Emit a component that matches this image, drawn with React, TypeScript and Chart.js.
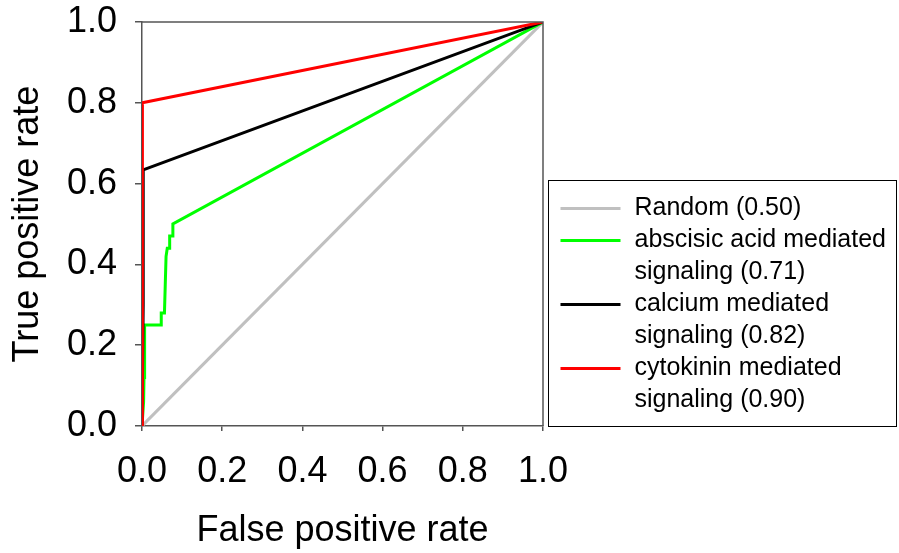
import React, { useEffect, useRef } from "react";
import { Chart, registerables } from "chart.js";
Chart.register(...registerables);

const tickValues = [0, 0.2, 0.4, 0.6, 0.8, 1.0];

const seriesNames = ["Random (0.50)", "abscisic acid mediated signaling (0.71)", "calcium mediated signaling (0.82)", "cytokinin mediated signaling (0.90)"];
const legendLines = [
  ["Random (0.50)"],
  ["abscisic acid mediated", "signaling (0.71)"],
  ["calcium mediated", "signaling (0.82)"],
  ["cytokinin mediated", "signaling (0.90)"],
];
const seriesColors = ["#c0c0c0", "#00ff00", "#000000", "#ff0000"];

const randomFpr = [0, 1];
const randomTpr = [0, 1];

const abaFpr = [0, 0.004, 0.005, 0.006, 0.007, 0.048, 0.048, 0.056, 0.058, 0.06, 0.063, 0.069, 0.069, 0.077, 0.077, 1];
const abaTpr = [0, 0.06, 0.12, 0.19, 0.25, 0.25, 0.28, 0.28, 0.35, 0.42, 0.44, 0.44, 0.47, 0.47, 0.5, 1];

const calciumFpr = [0, 0.003, 0.003, 1];
const calciumTpr = [0, 0.3, 0.634, 1];

const cytokininFpr = [0, 0.001, 1];
const cytokininTpr = [0, 0.8, 1];

const FONT = "'Liberation Sans', Arial, sans-serif";

function pts(xs: number[], ys: number[]) {
  return xs.map((x, i) => ({ x, y: ys[i] }));
}

const framePlugin = {
  id: "frameAndLegend",
  afterDraw(chart: any) {
    const { ctx, chartArea: a } = chart;
    ctx.save();
    ctx.strokeStyle = "#555";
    ctx.lineWidth = 1.5;
    ctx.beginPath();
    ctx.moveTo(a.left, a.top);
    ctx.lineTo(a.right, a.top);
    ctx.lineTo(a.right, a.bottom);
    ctx.stroke();

    // legend
    const bx = a.right + 5.5;
    const by = 180.5;
    const bw = 348;
    const bh = 246;
    ctx.strokeStyle = "#000";
    ctx.lineWidth = 1;
    ctx.strokeRect(bx, by, bw, bh);
    ctx.font = `25px ${FONT}`;
    ctx.fillStyle = "#000";
    ctx.textBaseline = "middle";
    ctx.textAlign = "left";
    let row = 0;
    const rowH = 32;
    const y0 = by + 28;
    legendLines.forEach((lines, i) => {
      const y = y0 + row * rowH;
      ctx.strokeStyle = seriesColors[i];
      ctx.lineWidth = 3;
      ctx.beginPath();
      ctx.moveTo(bx + 12, y);
      ctx.lineTo(bx + 72, y);
      ctx.stroke();
      lines.forEach((t, j) => {
        ctx.fillText(t, bx + 86, y0 + (row + j) * rowH);
      });
      row += lines.length;
    });
    ctx.restore();
  },
};

export default function App() {
  const ref = useRef<HTMLCanvasElement>(null);
  useEffect(() => {
    if (!ref.current) return;
    const xsList = [randomFpr, abaFpr, calciumFpr, cytokininFpr];
    const ysList = [randomTpr, abaTpr, calciumTpr, cytokininTpr];
    const chart = new Chart(ref.current, {
      type: "scatter",
      data: {
        datasets: seriesNames.map((name, i) => ({
          label: name,
          data: pts(xsList[i], ysList[i]),
          showLine: true,
          borderColor: seriesColors[i],
          backgroundColor: seriesColors[i],
          borderWidth: 3,
          pointRadius: 0,
          order: 4 - i,
        })),
      },
      options: {
        responsive: false,
        animation: false,
        layout: { padding: { top: 22, right: 356, left: 0, bottom: 0 } },
        plugins: { legend: { display: false }, tooltip: { enabled: false } },
        scales: {
          x: {
            type: "linear",
            min: 0,
            max: 1,
            afterBuildTicks: (s: any) => {
              s.ticks = tickValues.map((v) => ({ value: v }));
            },
            afterFit: (s: any) => {
              s.height = 127;
              s.paddingLeft = 0;
              s.paddingRight = 0;
            },
            ticks: {
              callback: (v: any) => Number(v).toFixed(1),
              font: { family: FONT, size: 36 },
              color: "#000",
              padding: 19,
              maxRotation: 0,
            },
            grid: { drawOnChartArea: false, drawTicks: true, tickLength: 5, tickColor: "#555", lineWidth: 1.5 },
            border: { display: true, color: "#555", width: 1.5 },
            title: {
              display: true,
              text: "False positive rate",
              font: { family: FONT, size: 36 },
              color: "#000",
              padding: { top: 0, bottom: 0 },
            },
          },
          y: {
            type: "linear",
            min: 0,
            max: 1,
            afterBuildTicks: (s: any) => {
              s.ticks = tickValues.map((v) => ({ value: v }));
            },
            afterFit: (s: any) => {
              s.width = 142;
              s.paddingTop = 0;
              s.paddingBottom = 0;
            },
            ticks: {
              callback: (v: any) => Number(v).toFixed(1),
              font: { family: FONT, size: 36 },
              color: "#000",
              padding: 18,
            },
            grid: { drawOnChartArea: false, drawTicks: true, tickLength: 7, tickColor: "#555", lineWidth: 1.5 },
            border: { display: true, color: "#555", width: 1.5 },
            title: {
              display: true,
              text: "True positive rate",
              font: { family: FONT, size: 36 },
              color: "#000",
              padding: { top: 6, bottom: 0 },
            },
          },
        },
      },
      plugins: [framePlugin],
    } as any);
    return () => chart.destroy();
  }, []);
  return (
    <div style={{ position: "fixed", left: 0, top: 0, width: 899, height: 553, background: "#fff" }}>
      <canvas ref={ref} width={899} height={553} style={{ display: "block" }} />
    </div>
  );
}
